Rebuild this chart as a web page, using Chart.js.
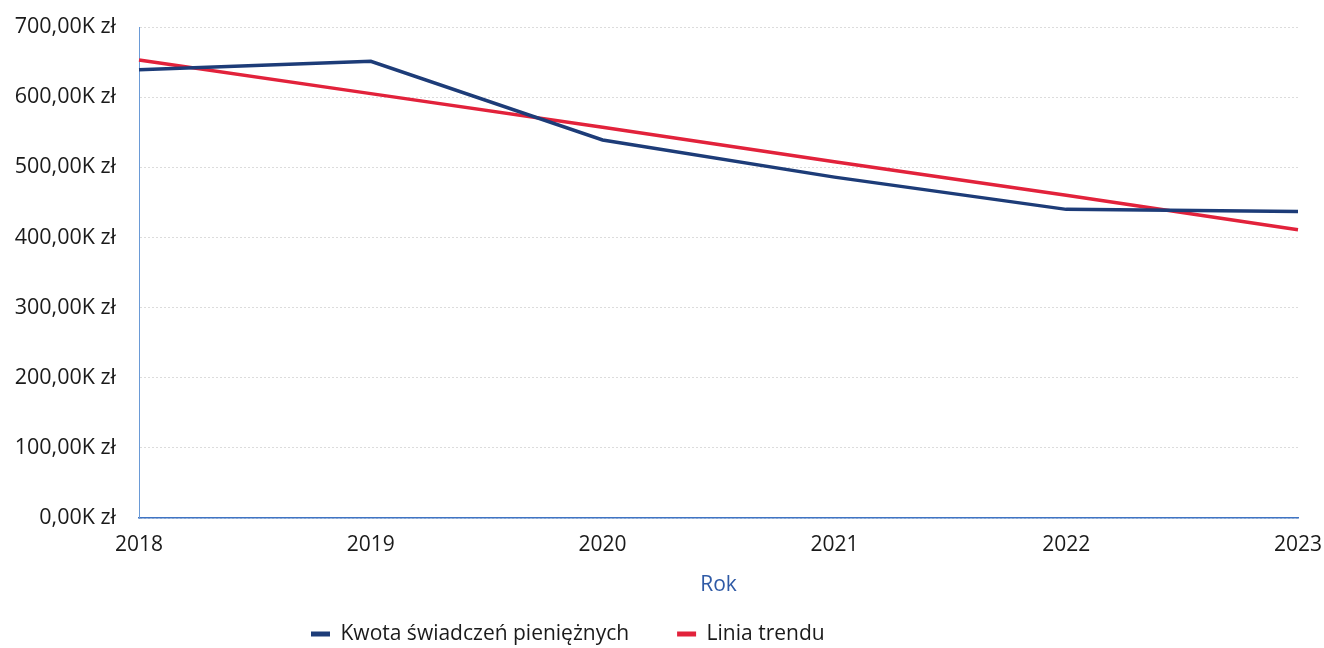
<!DOCTYPE html>
<html>
<head>
<meta charset="utf-8">
<script src="https://cdn.jsdelivr.net/npm/chart.js@4.4.0/dist/chart.umd.min.js"></script>
<style>
  body { margin: 0; background: #fff; }
  #wrap { width: 1324px; height: 648px; }
</style>
</head>
<body>
<div id="wrap"><canvas id="chart"></canvas></div>
<script>
const years = ["2018", "2019", "2020", "2021", "2022", "2023"];
const kwota = [639000, 651000, 539000, 486000, 440000, 437000];
const trend = [653000, 605000, 557000, 508000, 460000, 411000];
const yTicks = [0, 100000, 200000, 300000, 400000, 500000, 600000, 700000];

const navy = "#1d3c78";
const red = "#e2223b";
const font = "'Open Sans', 'Segoe UI', sans-serif";

function zl(v) {
  return (v / 1000).toFixed(2).replace(".", ",") + "K zł";
}

// legend: fixed height and left-shifted position like the original
const legendFix = {
  id: "legendFix",
  afterInit(chart) {
    const lg = chart.legend;
    const fit = lg.fit.bind(lg);
    lg.fit = function () {
      fit();
      this.height = 50;
    };
  },
  afterLayout(chart) {
    const lg = chart.legend;
    const pad = lg.options.labels.padding;
    lg.top = 634 - 10.5 - pad;
    lg.bottom = chart.height;
    lg.left = 311 - pad;
    lg.right = chart.width;
  }
};

new Chart(document.getElementById("chart"), {
  type: "line",
  data: {
    labels: years,
    datasets: [
      {
        label: "Kwota świadczeń pieniężnych",
        data: kwota,
        borderColor: navy,
        backgroundColor: navy,
        borderWidth: 3.5,
        pointRadius: 0,
        tension: 0
      },
      {
        label: "Linia trendu",
        data: trend,
        borderColor: red,
        backgroundColor: red,
        borderWidth: 3.5,
        pointRadius: 0,
        tension: 0
      }
    ]
  },
  options: {
    responsive: true,
    maintainAspectRatio: false,
    animation: false,
    layout: { padding: { top: 27, right: 26, left: 0, bottom: 0 } },
    scales: {
      x: {
        offset: false,
        afterFit(scale) {
          scale.height = 80;
          scale.paddingLeft = 0;
          scale.paddingRight = 0;
        },
        grid: { display: false, drawTicks: false },
        border: { display: true, color: "#3f74c4", width: 1.5 },
        ticks: { color: "#1a1a1a", font: { family: font, size: 21 }, padding: 14, maxRotation: 0 },
        title: {
          display: true,
          text: "Rok",
          color: "#2f5aa6",
          font: { family: font, size: 21 },
          padding: { top: 16, bottom: 0 }
        }
      },
      y: {
        min: 0,
        max: 700000,
        afterFit(scale) {
          scale.width = 139;
          scale.paddingTop = 0;
          scale.paddingBottom = 0;
        },
        afterBuildTicks(scale) { scale.ticks = yTicks.map(v => ({ value: v })); },
        grid: { color: "#dcdcdc", drawTicks: false, lineWidth: 1 },
        border: { display: true, color: "#6a9ad6", width: 1, dash: [2, 2] },
        ticks: {
          color: "#1a1a1a",
          font: { family: font, size: 21.5 },
          padding: 23,
          callback: v => zl(v)
        }
      }
    },
    plugins: {
      legend: {
        position: "bottom",
        align: "start",
        labels: {
          color: "#1a1a1a",
          font: { family: font, size: 21 },
          boxWidth: 19,
          boxHeight: 5,
          padding: 48,
          generateLabels(chart) {
            const items = Chart.defaults.plugins.legend.labels.generateLabels(chart);
            items.forEach(it => { it.lineWidth = 0; });
            return items;
          }
        }
      },
      tooltip: { enabled: false }
    }
  },
  plugins: [legendFix]
});
</script>
</body>
</html>
